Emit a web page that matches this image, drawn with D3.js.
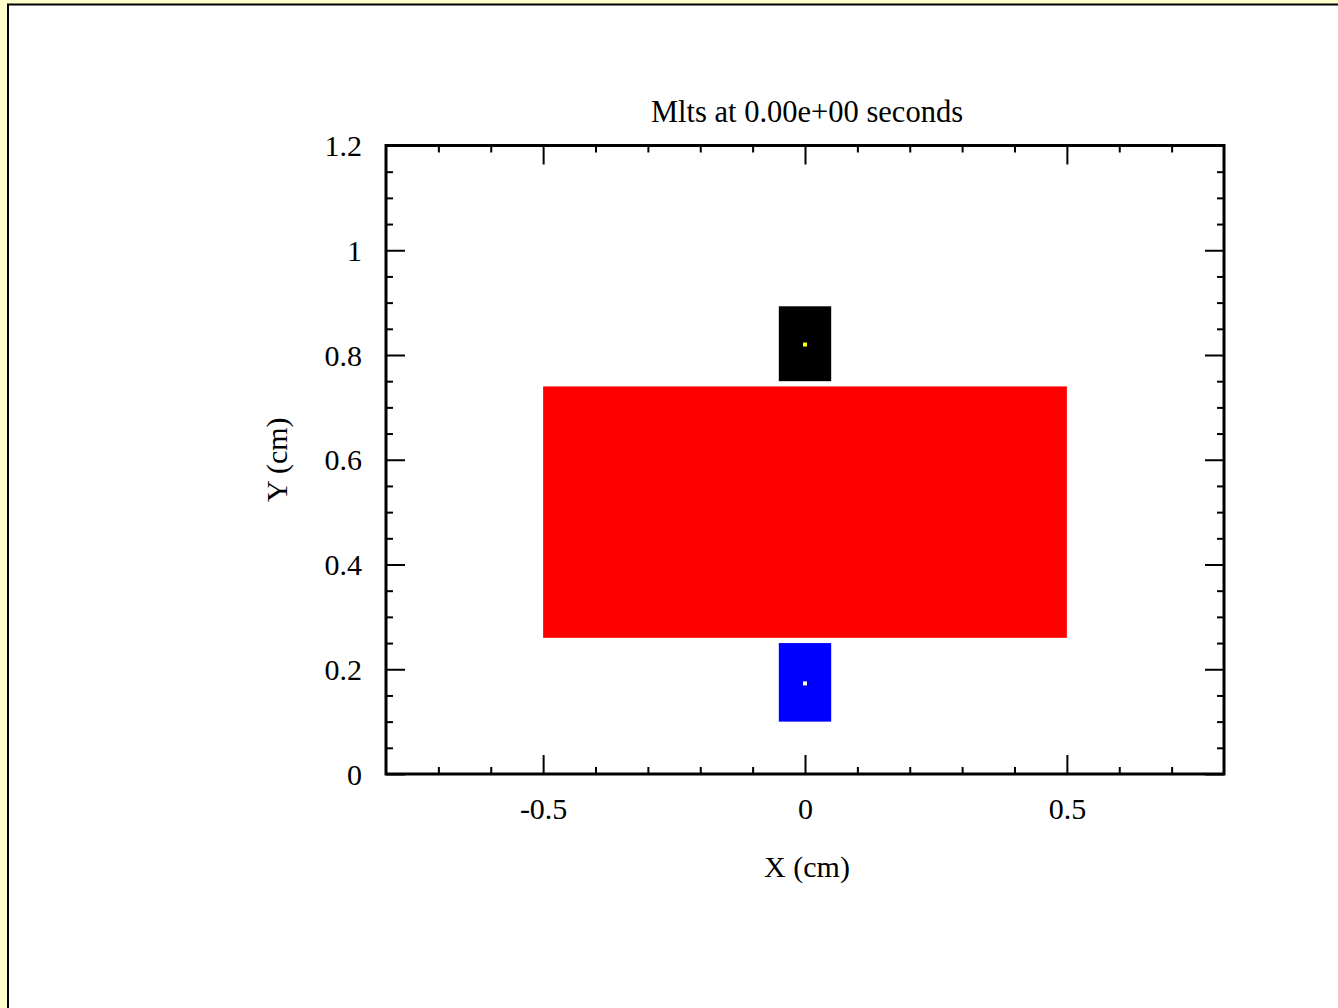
<!DOCTYPE html>
<html>
<head>
<meta charset="utf-8">
<script src="https://cdn.jsdelivr.net/npm/d3@7"></script>
<style>
  body { margin: 0; background: #ffffcc; }
  svg { display: block; }
  text { font-family: "Liberation Serif", "Times New Roman", serif; fill: #000; }
</style>
</head>
<body>
<svg id="chart" width="1338" height="1008"></svg>
<script>
// Chart values
var titleText = "Mlts at 0.00e+00 seconds";
var xLabel = "X (cm)";
var yLabel = "Y (cm)";

var xDomain = [-0.8, 0.8];
var yDomain = [0, 1.2];
var xMajor = [-0.5, 0, 0.5];
var xMinor = [-0.7, -0.6, -0.4, -0.3, -0.2, -0.1, 0.1, 0.2, 0.3, 0.4, 0.6, 0.7];
var yMajor = [0, 0.2, 0.4, 0.6, 0.8, 1, 1.2];
var yMinor = [0.05, 0.1, 0.15, 0.25, 0.3, 0.35, 0.45, 0.5, 0.55, 0.65, 0.7, 0.75,
              0.85, 0.9, 0.95, 1.05, 1.1, 1.15];

// material blocks (x0, x1, y0, y1 in cm)
var blockNames  = ["slab", "top", "bottom"];
var blockX0     = [-0.5, -0.05, -0.05];
var blockX1     = [0.5, 0.05, 0.05];
var blockY0     = [0.26, 0.75, 0.1];
var blockY1     = [0.74, 0.893, 0.25];
var blockColors = ["#ff0000", "#000000", "#0000ff"];

// marker points inside the small blocks
var dotX      = [0, 0];
var dotY      = [0.82, 0.173];
var dotColors = ["#ffff00", "#ffffcc"];

var svg = d3.select("#chart");

// page frame: pale yellow strip with a black edge, white inside
svg.append("rect")
  .attr("x", 8).attr("y", 4.5)
  .attr("width", 1340).attr("height", 1010)
  .attr("fill", "#fff")
  .attr("stroke", "#000")
  .attr("stroke-width", 2);

var pLeft = 386, pRight = 1224, pTop = 145.5, pBottom = 774;

var x = d3.scaleLinear().domain(xDomain).range([pLeft, pRight]);
var y = d3.scaleLinear().domain(yDomain).range([pBottom, pTop]);

var blocks = blockNames.map(function(n, i) {
  return {name: n, x0: blockX0[i], x1: blockX1[i], y0: blockY0[i], y1: blockY1[i], color: blockColors[i]};
});

svg.append("g").selectAll("rect")
  .data(blocks)
  .enter().append("rect")
  .attr("x", function(d) { return x(d.x0); })
  .attr("y", function(d) { return y(d.y1); })
  .attr("width", function(d) { return x(d.x1) - x(d.x0); })
  .attr("height", function(d) { return y(d.y0) - y(d.y1); })
  .attr("fill", function(d) { return d.color; });

svg.append("g").selectAll("rect")
  .data(dotX)
  .enter().append("rect")
  .attr("x", function(d) { return x(d) - 2; })
  .attr("y", function(d, i) { return y(dotY[i]) - 2; })
  .attr("width", 4)
  .attr("height", 4)
  .attr("fill", function(d, i) { return dotColors[i]; });

// axes, all ticks point inward
function styleAxis(g) {
  g.select(".domain").remove();
  g.selectAll(".tick line").attr("stroke", "#000").attr("stroke-width", 2);
  g.selectAll(".tick text").style("font-size", "30px").style("font-family", "Liberation Serif, serif");
}
var plain = function(d) { return String(d); };

svg.append("g")
  .attr("transform", "translate(0," + pBottom + ")")
  .call(d3.axisBottom(x).tickValues(xMajor).tickSize(-19).tickSizeOuter(0).tickPadding(24).tickFormat(plain))
  .call(styleAxis);
svg.append("g")
  .attr("transform", "translate(0," + pBottom + ")")
  .call(d3.axisBottom(x).tickValues(xMinor).tickSize(-7).tickSizeOuter(0).tickFormat(""))
  .call(styleAxis);
svg.append("g")
  .attr("transform", "translate(0," + pTop + ")")
  .call(d3.axisTop(x).tickValues(xMajor).tickSize(-19).tickSizeOuter(0).tickFormat(""))
  .call(styleAxis);
svg.append("g")
  .attr("transform", "translate(0," + pTop + ")")
  .call(d3.axisTop(x).tickValues(xMinor).tickSize(-7).tickSizeOuter(0).tickFormat(""))
  .call(styleAxis);

svg.append("g")
  .attr("transform", "translate(" + pLeft + ",0)")
  .call(d3.axisLeft(y).tickValues(yMajor).tickSize(-19).tickSizeOuter(0).tickPadding(24).tickFormat(plain))
  .call(styleAxis)
  .selectAll(".tick text").attr("dy", "0.34em");
svg.append("g")
  .attr("transform", "translate(" + pLeft + ",0)")
  .call(d3.axisLeft(y).tickValues(yMinor).tickSize(-7).tickSizeOuter(0).tickFormat(""))
  .call(styleAxis);
svg.append("g")
  .attr("transform", "translate(" + pRight + ",0)")
  .call(d3.axisRight(y).tickValues(yMajor).tickSize(-19).tickSizeOuter(0).tickFormat(""))
  .call(styleAxis);
svg.append("g")
  .attr("transform", "translate(" + pRight + ",0)")
  .call(d3.axisRight(y).tickValues(yMinor).tickSize(-7).tickSizeOuter(0).tickFormat(""))
  .call(styleAxis);

// plot frame
svg.append("rect")
  .attr("x", pLeft).attr("y", pTop)
  .attr("width", pRight - pLeft).attr("height", pBottom - pTop)
  .attr("fill", "none")
  .attr("stroke", "#000")
  .attr("stroke-width", 3);

// title and axis labels
svg.append("text")
  .attr("x", (pLeft + pRight) / 2 + 2)
  .attr("y", 122)
  .attr("text-anchor", "middle")
  .style("font-size", "30.5px")
  .text(titleText);

svg.append("text")
  .attr("x", (pLeft + pRight) / 2 + 2)
  .attr("y", 877)
  .attr("text-anchor", "middle")
  .style("font-size", "30px")
  .text(xLabel);

svg.append("text")
  .attr("transform", "translate(287," + ((pTop + pBottom) / 2) + ") rotate(-90)")
  .attr("text-anchor", "middle")
  .style("font-size", "30px")
  .text(yLabel);
</script>
</body>
</html>
